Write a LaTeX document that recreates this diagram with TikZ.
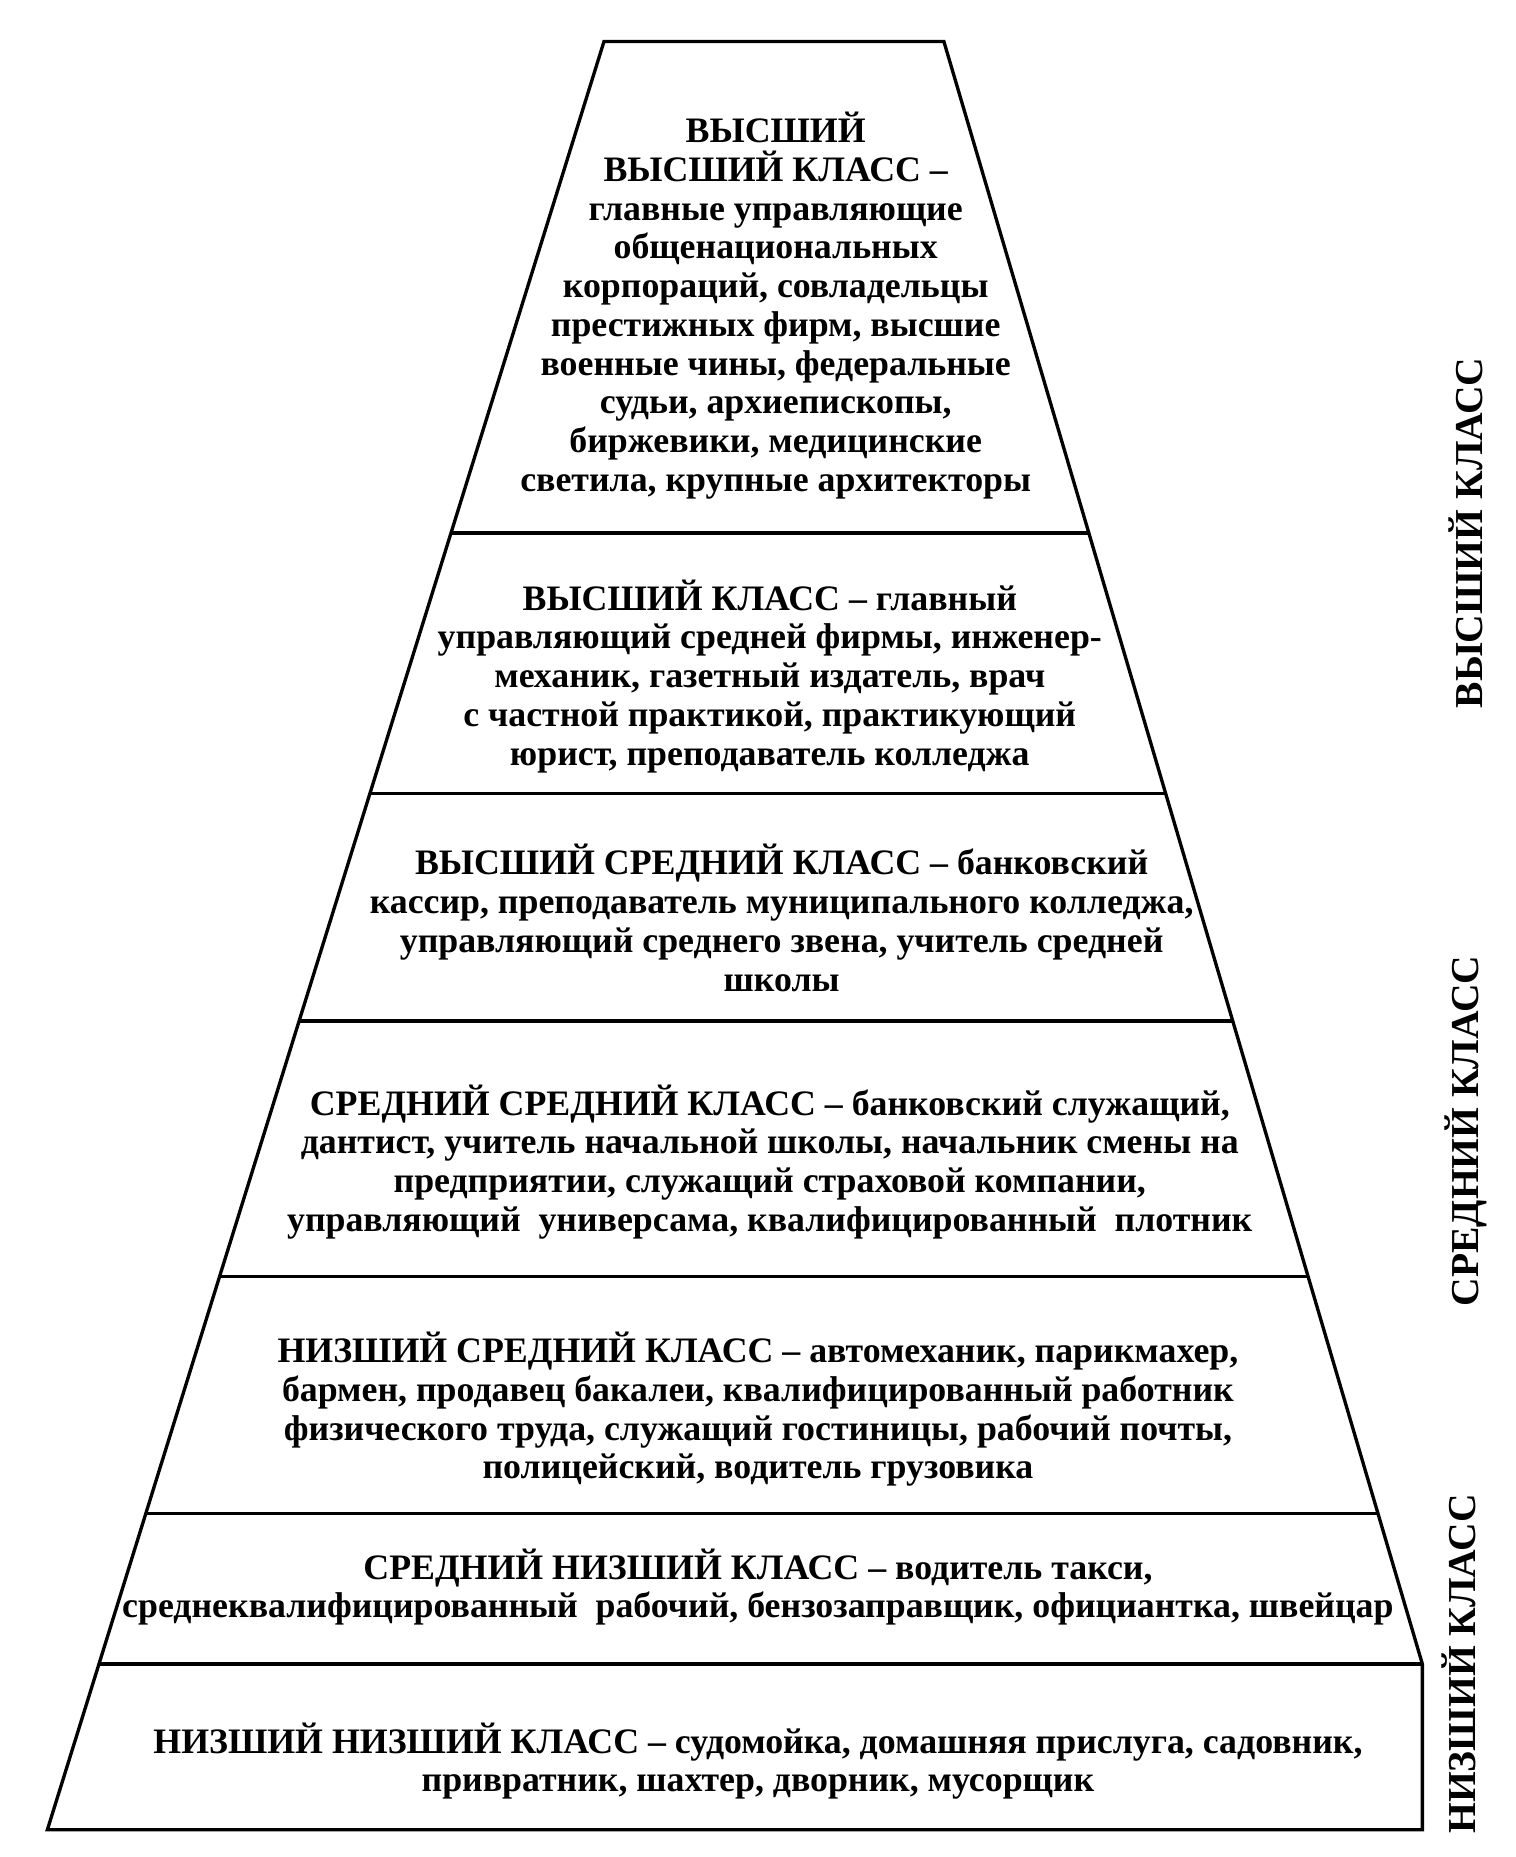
\documentclass[tikz,border=0pt]{standalone}
\usepackage{fontspec}
\setmainfont{Liberation Serif}
\begin{document}
\begin{tikzpicture}[x=0.01cm,y=-0.01cm,
    layer/.style={font=\bfseries\fontsize{8.6}{9.3}\selectfont, align=center},
    side/.style={font=\bfseries\fontsize{9.5}{10}\selectfont, rotate=90}]
\useasboundingbox (0,0) rectangle (1280,1568);

    %outline
    \coordinate (tl) at (510,35);
    \coordinate (tr) at (797,35);
    \coordinate (ml) at (84,1405);
    \coordinate (mr) at (1201,1405);
    \coordinate (bl) at (40,1545);
    \coordinate (br) at (1201,1545);
    \draw[thick] (bl) -- (tl) -- (tr) -- (mr) -- (br) -- cycle;

    %dividers
    \foreach \l/\r/\y in {381/920/450, 312/984/670, 253/1041/862, 185/1105/1078, 123/1164/1278}
        \draw[thick] (\l,\y) -- (\r,\y);
    \draw[thick] (ml) -- (mr);

\node[layer] (l1) at (655,258) {ВЫСШИЙ\\ВЫСШИЙ КЛАСС –\\главные управляющие\\общенациональных\\корпораций, совладельцы\\престижных фирм, высшие\\военные чины, федеральные\\судьи, архиепископы,\\биржевики, медицинские\\светила, крупные архитекторы};
\node[layer] (l2) at (650,571) {ВЫСШИЙ КЛАСС – главный\\управляющий средней фирмы, инженер-\\механик, газетный издатель, врач\\с частной практикой, практикующий\\юрист, преподаватель колледжа};
\node[layer] (l3) at (660,775) {ВЫСШИЙ СРЕДНИЙ КЛАСС – банковский\\кассир, преподаватель муниципального колледжа,\\управляющий среднего звена, учитель средней\\школы};
\node[layer] (l4) at (650,981) {СРЕДНИЙ СРЕДНИЙ КЛАСС – банковский служащий,\\дантист, учитель начальной школы, начальник смены на\\предприятии, служащий страховой компании,\\управляющий \ универсама, квалифицированный \ плотник};
\node[layer] (l5) at (640,1190) {НИЗШИЙ СРЕДНИЙ КЛАСС – автомеханик, парикмахер,\\бармен, продавец бакалеи, квалифицированный работник\\физического труда, служащий гостиницы, рабочий почты,\\полицейский, водитель грузовика};
\node[layer] (l6) at (640,1340) {СРЕДНИЙ НИЗШИЙ КЛАСС – водитель такси,\\среднеквалифицированный \ рабочий, бензозаправщик, официантка, швейцар};
\node[layer] (l7) at (640,1487) {НИЗШИЙ НИЗШИЙ КЛАСС – судомойка, домашняя прислуга, садовник,\\привратник, шахтер, дворник, мусорщик};

    %side labels
\node[side] (upper) at (1238,450) {ВЫСШИЙ КЛАСС};
\node[side] (middle) at (1238,955) {СРЕДНИЙ КЛАСС};
\node[side] (lower) at (1232,1405) {НИЗШИЙ КЛАСС};
\end{tikzpicture}
\end{document}
